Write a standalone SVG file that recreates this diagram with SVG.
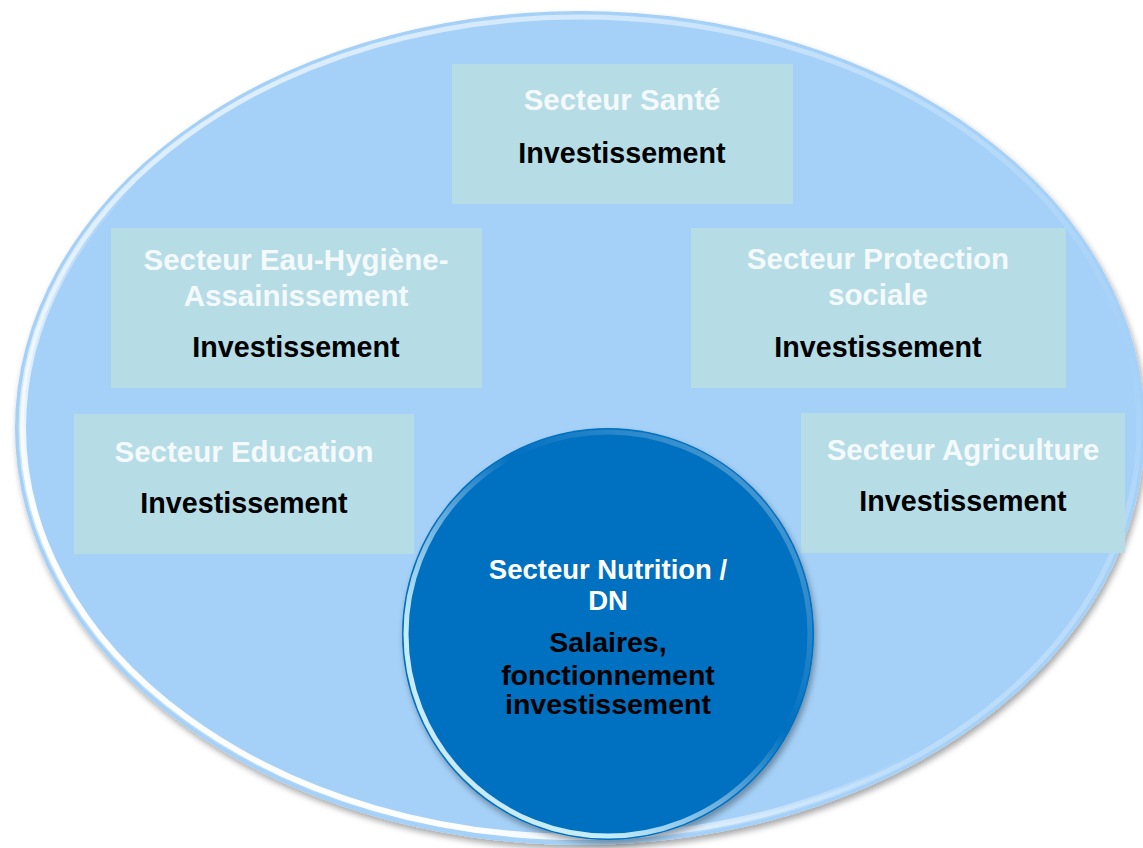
<svg xmlns="http://www.w3.org/2000/svg" width="1143" height="848" viewBox="0 0 1143 848">
<defs>
<style>
.box{fill:#B6DCE6;}
.hd{font-family:"Liberation Sans",Arial,sans-serif;font-weight:bold;font-size:29.5px;fill:#F4FAFC;text-anchor:middle;}
.bd{font-family:"Liberation Sans",Arial,sans-serif;font-weight:bold;font-size:28.7px;fill:#000000;text-anchor:middle;}
.chd{font-family:"Liberation Sans",Arial,sans-serif;font-weight:bold;font-size:27.5px;fill:#FFFFFF;text-anchor:middle;}
.cbd{font-family:"Liberation Sans",Arial,sans-serif;font-weight:bold;font-size:28.5px;fill:#000000;text-anchor:middle;}
</style>
<filter id="shadow" x="-10%" y="-10%" width="120%" height="120%">
<feDropShadow dx="2" dy="4" stdDeviation="3" flood-color="#000000" flood-opacity="0.35"/>
</filter>
<linearGradient id="rimE" x1="0" y1="0" x2="1" y2="1">
<stop offset="0" stop-color="#FFFFFF" stop-opacity="0.8"/>
<stop offset="0.45" stop-color="#FFFFFF" stop-opacity="0.25"/>
<stop offset="0.7" stop-color="#FFFFFF" stop-opacity="0.0"/>
<stop offset="1" stop-color="#FFFFFF" stop-opacity="0.5"/>
</linearGradient>
<linearGradient id="rimE2" x1="1" y1="0" x2="0" y2="1">
<stop offset="0" stop-color="#FFFFFF" stop-opacity="0"/>
<stop offset="0.55" stop-color="#FFFFFF" stop-opacity="0"/>
<stop offset="0.8" stop-color="#FFFFFF" stop-opacity="1"/>
<stop offset="1" stop-color="#FFFFFF" stop-opacity="0.8"/>
</linearGradient>
<linearGradient id="rimC" x1="1" y1="0" x2="0" y2="1">
<stop offset="0" stop-color="#FFFFFF" stop-opacity="0.4"/>
<stop offset="0.4" stop-color="#FFFFFF" stop-opacity="0.0"/>
<stop offset="0.75" stop-color="#CFF4FF" stop-opacity="0.95"/>
<stop offset="1" stop-color="#FFFFFF" stop-opacity="0.8"/>
</linearGradient>
</defs>

<g id="ellipse-bg">
<ellipse cx="580" cy="428" rx="565" ry="417" fill="#A5D1F8" filter="url(#shadow)"/>
<ellipse cx="580" cy="428" rx="559" ry="411" fill="none" stroke="url(#rimE)" stroke-width="5"/>
<ellipse cx="580" cy="428" rx="557" ry="409" fill="none" stroke="url(#rimE2)" stroke-width="6"/>
</g>

<g id="connectors"></g>

<g id="node-sante">
<rect class="box" x="452" y="64" width="341" height="140"/>
<text class="hd" x="622" y="110">Secteur Santé</text>
<text class="bd" x="622" y="163">Investissement</text>
</g>

<g id="node-eau">
<rect class="box" x="111" y="228" width="371" height="160"/>
<text class="hd" x="296" y="270">Secteur Eau-Hygiène-</text>
<text class="hd" x="296" y="306">Assainissement</text>
<text class="bd" x="296" y="357">Investissement</text>
</g>

<g id="node-protection">
<rect class="box" x="691" y="228" width="375" height="160"/>
<text class="hd" x="878" y="269">Secteur Protection</text>
<text class="hd" x="878" y="305">sociale</text>
<text class="bd" x="878" y="357">Investissement</text>
</g>

<g id="node-education">
<rect class="box" x="74" y="414" width="340" height="140"/>
<text class="hd" x="244" y="462">Secteur Education</text>
<text class="bd" x="244" y="513">Investissement</text>
</g>

<g id="node-agriculture">
<rect class="box" x="801" y="413" width="324" height="140"/>
<text class="hd" x="963" y="460">Secteur Agriculture</text>
<text class="bd" x="963" y="511">Investissement</text>
</g>

<g id="node-nutrition">
<circle cx="608" cy="634" r="206" fill="#0070C0" filter="url(#shadow)"/>
<circle cx="608" cy="634" r="202" fill="none" stroke="url(#rimC)" stroke-width="5"/>
<text class="chd" x="608" y="579">Secteur Nutrition /</text>
<text class="chd" x="608" y="610">DN</text>
<text class="cbd" x="608" y="652">Salaires,</text>
<text class="cbd" x="608" y="685">fonctionnement</text>
<text class="cbd" x="608" y="714">investissement</text>
</g>
</svg>
